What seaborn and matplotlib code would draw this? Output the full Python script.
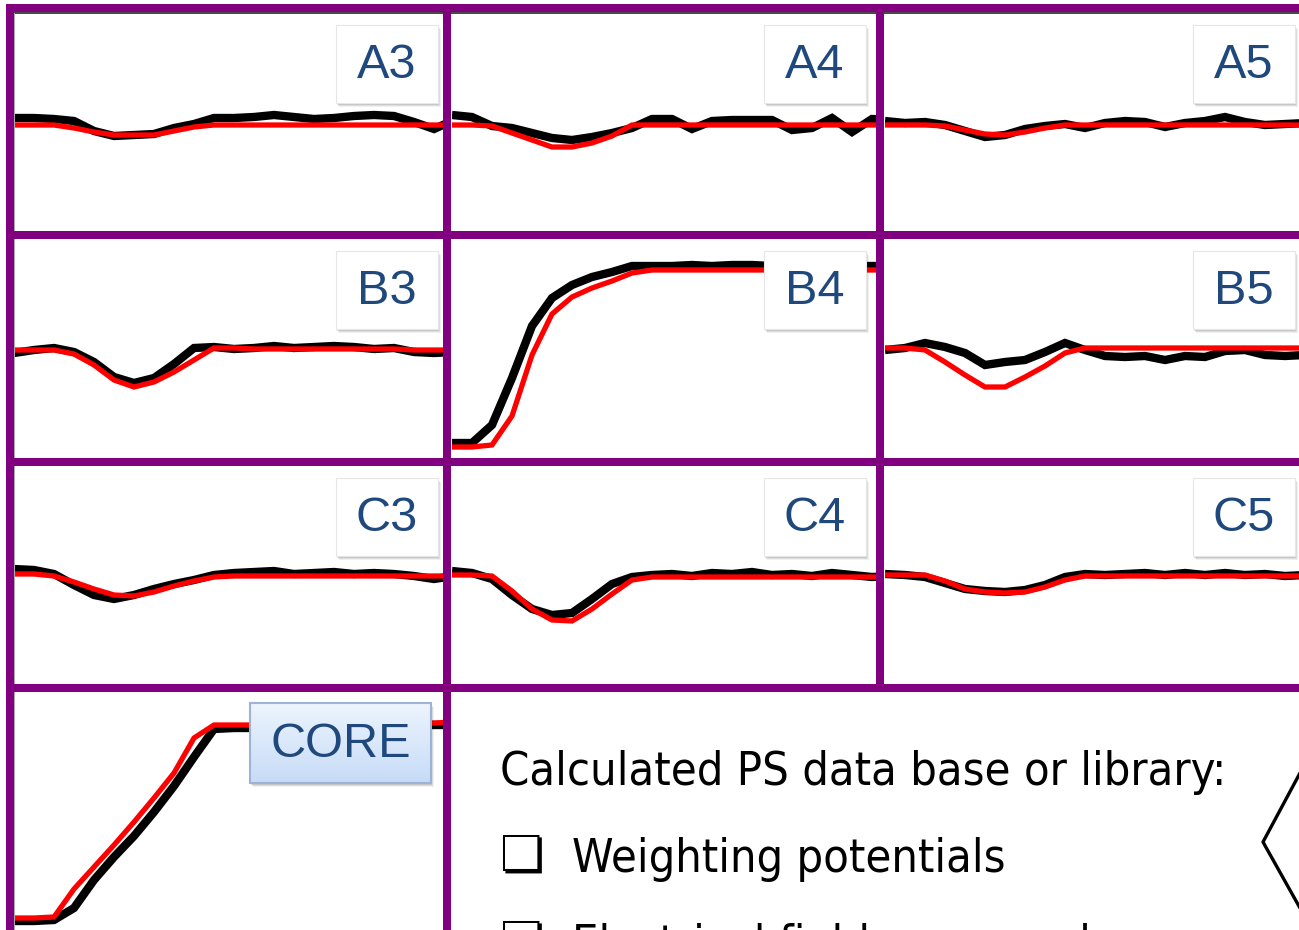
import numpy as np
import pandas as pd
import seaborn as sns
import matplotlib.pyplot as plt
from matplotlib.patches import Rectangle
from matplotlib.lines import Line2D
from matplotlib import font_manager as fm

sns.set_theme(style="white")
plt.rcParams["font.family"] = ["Liberation Sans", "DejaVu Sans"]

# ---------------- data (signal amplitude, arbitrary units; time samples) -----
t = [0, 20, 40, 60, 80, 100, 120, 140, 160, 180, 200, 220, 240, 260, 280, 300,
     320, 340, 360, 380, 400, 420, 440]

A3_red = [-2, -2, -2, -5, -9, -12, -12, -12, -8, -4, -2, -2, -2, -2, -2, -2, -2, -2, -2, -2, -2, -2, -2]
A3_black = [5, 5, 4, 2, -8, -13, -12, -11, -5, -1, 5, 5, 6, 8, 6, 4, 5, 7, 8, 7, 1, -6, 3]

A4_red = [-2, -2, -3, -10, -17, -24, -24, -20, -13, -2, -2, -2, -2, -2, -2, -2, -2, -2, -2, -2, -2, -2, -2]
A4_black = [8, 6, -3, -5, -10, -15, -17, -14, -10, -5, 4, 4, -6, 2, 3, 3, 3, -7, -5, 5, -9, 4, 3]

A5_red = [-2, -2, -2, -3, -7, -11, -12, -9, -5, -2, -2, -2, -2, -2, -2, -2, -2, -2, -2, -2, -2, -2, -2]
A5_black = [2, 0, 1, -2, -8, -14, -12, -6, -3, -1, -5, 0, 2, 1, -4, 0, 2, 6, 1, -2, -1, 0, 1]

B3_red = [0, 0, 0, -4, -15, -30, -37, -32, -22, -10, 2, 2, 1, 1, 1, 1, 1, 1, 1, 1, 0, 0, 0]
B3_black = [-3, 0, 2, -2, -12, -27, -33, -28, -14, 2, 3, 1, 2, 4, 2, 3, 4, 3, 1, 2, -2, -3, -2]

B4_red = [-97, -97, -95, -66, -5, 36, 53, 62, 69, 77, 80, 80, 80, 80, 80, 80, 80, 80, 80, 80, 80, 80, 80]
B4_black = [-93, -93, -75, -28, 24, 52, 65, 73, 78, 84, 84, 84, 85, 84, 85, 85, 84, 85, 85, 84, 84, 84, 84]

B5_red = [2, 2, 0, -12, -25, -37, -37, -27, -16, -3, 2, 2, 2, 2, 2, 2, 2, 2, 2, 2, 2, 2, 2]
B5_black = [0, 2, 7, 3, -3, -15, -12, -10, -2, 7, 0, -6, -7, -6, -10, -6, -7, -1, 0, -5, -6, -5, -5]

C3_red = [3, 3, 1, -5, -12, -18, -19, -15, -9, -4, 0, 1, 1, 1, 1, 1, 1, 1, 1, 1, 1, 1, 1]
C3_black = [8, 7, 3, -8, -18, -22, -18, -12, -7, -3, 2, 4, 5, 6, 3, 4, 5, 3, 4, 3, 1, -2, 1]

C4_red = [2, 2, 1, -14, -32, -43, -44, -32, -17, -3, 0, 0, 0, 0, 0, 0, 0, 0, 0, 0, 0, 0, 0]
C4_black = [6, 4, -2, -18, -32, -38, -36, -22, -7, 0, 2, 3, 1, 4, 3, 5, 2, 3, 1, 4, 2, 0, 1]

C5_red = [2, 2, 2, -4, -12, -15, -16, -15, -10, -3, 1, 1, 1, 1, 1, 1, 1, 1, 1, 1, 1, 1, 1]
C5_black = [3, 2, 0, -6, -12, -14, -15, -13, -8, 0, 3, 2, 3, 4, 2, 4, 2, 4, 2, 3, 1, 2, 2]

CORE_red = [-115, -115, -114, -86, -64, -42, -19, 5, 30, 65, 78, 78, 78, 78, 79, 79, 79, 79, 80, 80, 80, 80, 81]
CORE_black = [-118, -118, -117, -105, -77, -54, -33, -9, 17, 46, 74, 75, 75, 75, 76, 76, 76, 77, 77, 77, 78, 78, 78]

panel_names = ["A3", "A4", "A5", "B3", "B4", "B5", "C3", "C4", "C5", "CORE"]
red_traces = [A3_red, A4_red, A5_red, B3_red, B4_red, B5_red, C3_red, C4_red, C5_red, CORE_red]
black_traces = [A3_black, A4_black, A5_black, B3_black, B4_black, B5_black, C3_black, C4_black, C5_black, CORE_black]

text_title = "Calculated PS data base or library:"
text_items = ["Weighting potentials", "Electrical field maps and"]

# ---------------- layout --------------------------------------------------
W, H = 1299, 930
fig = plt.figure(figsize=(W / 100, H / 100), dpi=100)
fig.patch.set_facecolor("white")

col_x = [(14, 443), (452, 876), (885, 1303)]
row_y = [(12, 231), (239, 457), (466, 683)]
panel_boxes = []
for r in range(3):
    for c in range(3):
        panel_boxes.append((col_x[c][0], row_y[r][0], col_x[c][1], row_y[r][1]))
panel_boxes.append((14, 692, 443, 930))

PURPLE = "#800080"
LABEL_BLUE = "#1F497D"

for name, red, black, (x0, y0, x1, y1) in zip(panel_names, red_traces, black_traces, panel_boxes):
    ax = fig.add_axes([x0 / W, 1 - y1 / H, (x1 - x0) / W, (y1 - y0) / H], zorder=1)
    df = pd.DataFrame({"t": t, "measured": black, "calculated": red})
    sns.lineplot(data=df, x="t", y="measured", ax=ax, color="black", lw=6.0,
                 solid_capstyle="butt", solid_joinstyle="miter")
    sns.lineplot(data=df, x="t", y="calculated", ax=ax, color="#FF0000", lw=3.8,
                 solid_capstyle="butt", solid_joinstyle="miter")
    ax.set_xlim(0, x1 - x0)
    hgt = (y1 - y0)
    ax.set_ylim(111 - hgt, 111)
    ax.axis("off")

# overlay in pixel coordinates
ov = fig.add_axes([0, 0, 1, 1], zorder=5)
ov.set_xlim(0, W)
ov.set_ylim(H, 0)
ov.axis("off")
ov.patch.set_alpha(0)

# slide edge hints
ov.add_line(Line2D([14, W], [13, 13], color="#444444", lw=1.4))
ov.add_line(Line2D([14.5, 14.5], [13, 930], color="#aaaaaa", lw=0.8))

# purple grid
lw_p = 8 * 0.72
for y in [8, 235, 461.5, 687.5]:
    ov.add_line(Line2D([6, W], [y, y], color=PURPLE, lw=lw_p, solid_capstyle="butt"))
for x, ytop, ybot in [(10, 4, 930), (447.5, 4, 930), (880.5, 4, 688)]:
    ov.add_line(Line2D([x, x], [ytop, ybot], color=PURPLE, lw=lw_p, solid_capstyle="butt"))

# label boxes
box_x = [336, 764, 1193]
box_y = [25, 251, 478]
labels_grid = ["A3", "A4", "A5", "B3", "B4", "B5", "C3", "C4", "C5"]
bw, bh = 102, 78
for i, lab in enumerate(labels_grid):
    r, c = divmod(i, 3)
    bx, by = box_x[c], box_y[r]
    for k, a in [(4, 0.06), (3, 0.08), (2, 0.10)]:
        ov.add_patch(Rectangle((bx + k - 1, by + k), bw, bh, facecolor="black", alpha=a, lw=0))
    ov.add_patch(Rectangle((bx, by), bw, bh, facecolor="white", edgecolor="#e6e6e6", lw=0.8))
    ov.text(bx + bw / 2, by + bh / 2 + 1, lab, color=LABEL_BLUE, fontsize=35,
            ha="center", va="center", family=["Liberation Sans", "DejaVu Sans"])

# CORE box with gradient
cx0, cy0, cx1, cy1 = 250, 703, 431, 783
for k, a in [(4, 0.06), (3, 0.08), (2, 0.10)]:
    ov.add_patch(Rectangle((cx0 + k - 1, cy0 + k), cx1 - cx0, cy1 - cy0, facecolor="black", alpha=a, lw=0))
grad = np.linspace(0, 1, 64).reshape(-1, 1)
top_c = np.array([0.93, 0.96, 0.995])
bot_c = np.array([0.78, 0.86, 0.97])
img = top_c[None, None, :] * (1 - grad[:, :, None]) + bot_c[None, None, :] * grad[:, :, None]
ov.imshow(img, extent=[cx0, cx1, cy1, cy0], aspect="auto", zorder=2, interpolation="bilinear")
ov.add_patch(Rectangle((cx0, cy0), cx1 - cx0, cy1 - cy0, facecolor="none",
                       edgecolor="#9DB3D6", lw=1.5, zorder=3))
ov.text((cx0 + cx1) / 2, (cy0 + cy1) / 2 + 1, "CORE", color=LABEL_BLUE, fontsize=35,
        ha="center", va="center", zorder=4, family=["Liberation Sans", "DejaVu Sans"])
ov.set_xlim(0, W)
ov.set_ylim(H, 0)

# text block: pick a condensed face if one is installed
names = {f.name for f in fm.fontManager.ttflist}
cond = [f for f in fm.fontManager.ttflist
        if f.name == "DejaVu Sans" and str(f.stretch) in ("condensed", "semi-condensed", "600")]
if "Liberation Sans Narrow" in names:
    tfam, tstretch, tsize = ["Liberation Sans Narrow", "DejaVu Sans"], "normal", 35
elif cond:
    tfam, tstretch, tsize = ["DejaVu Sans", "Liberation Sans"], "condensed", 33.7
else:
    tfam, tstretch, tsize = ["DejaVu Sans", "Liberation Sans"], "normal", 30

ov.text(500, 785, text_title, fontsize=tsize, ha="left", va="baseline", color="black",
        family=tfam, fontstretch=tstretch)
ov.text(499, 871, "\u274f", fontsize=36, ha="left", va="baseline", color="black", family=["DejaVu Sans"])
ov.text(572, 872, text_items[0], fontsize=tsize, ha="left", va="baseline", color="black",
        family=tfam, fontstretch=tstretch)
ov.text(499, 957, "\u274f", fontsize=36, ha="left", va="baseline", color="black", family=["DejaVu Sans"])
ov.text(572, 958, text_items[1], fontsize=tsize, ha="left", va="baseline", color="black",
        family=tfam, fontstretch=tstretch)

# bracket on the right
ov.add_line(Line2D([1300, 1263, 1300], [773, 842, 908], color="black", lw=2.4))

fig.savefig("out.png", dpi=100)
